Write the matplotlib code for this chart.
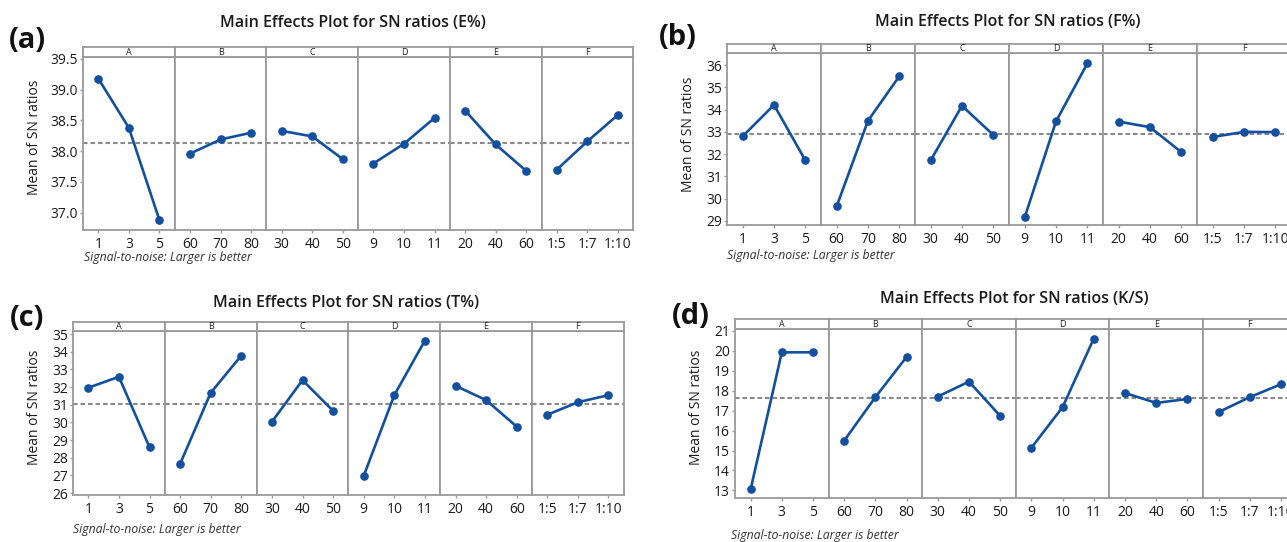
import matplotlib
matplotlib.use('Agg')
import matplotlib.pyplot as plt

W, H = 1287, 542

factors = ['A', 'B', 'C', 'D', 'E', 'F']
level_labels = [['1', '3', '5'], ['60', '70', '80'], ['30', '40', '50'],
                ['9', '10', '11'], ['20', '40', '60'], ['1:5', '1:7', '1:10']]

# (a) E%
e_means = [[39.18, 38.38, 36.88], [37.96, 38.19, 38.30], [38.33, 38.24, 37.87],
           [37.80, 38.12, 38.54], [38.66, 38.11, 37.68], [37.70, 38.16, 38.59]]
e_grand = 38.14
e_ticks = [37.0, 37.5, 38.0, 38.5, 39.0, 39.5]

# (b) F%
f_means = [[32.80, 34.21, 31.72], [29.66, 33.50, 35.50], [31.72, 34.17, 32.86],
           [29.16, 33.47, 36.07], [33.46, 33.21, 32.09], [32.77, 33.00, 32.99]]
f_grand = 32.90
f_ticks = [29, 30, 31, 32, 33, 34, 35, 36]

# (c) T%
t_means = [[31.96, 32.58, 28.59], [27.65, 31.67, 33.78], [30.03, 32.39, 30.65],
           [26.97, 31.54, 34.63], [32.07, 31.26, 29.76], [30.43, 31.14, 31.54]]
t_grand = 31.03
t_ticks = [26, 27, 28, 29, 30, 31, 32, 33, 34, 35]

# (d) K/S
k_means = [[13.05, 19.93, 19.93], [15.50, 17.68, 19.70], [17.71, 18.46, 16.74],
           [15.14, 17.18, 20.62], [17.89, 17.39, 17.59], [16.93, 17.68, 18.33]]
k_grand = 17.63
k_ticks = [13, 14, 15, 16, 17, 18, 19, 20, 21]

titles = ['Main Effects Plot for SN ratios (E%)', 'Main Effects Plot for SN ratios (F%)',
          'Main Effects Plot for SN ratios (T%)', 'Main Effects Plot for SN ratios (K/S)']
panel_tags = ['(a)', '(b)', '(c)', '(d)']

plt.rcParams['font.family'] = ['Open Sans', 'DejaVu Sans']

LINE = '#12509f'
FRAME = '#9a9a9a'
REF = '#8a8a8a'

layouts = [
    dict(left=83, w=91.7, htop=47, hbot=57, bot=230, ylim=(36.72, 39.53), fmt='%.1f',
         title=(353, 23), tag=(27, 40), ylab=(35, 137), foot=(84, 258)),
    dict(left=727, w=94.0, htop=44, hbot=53, bot=225, ylim=(28.82, 36.54), fmt='%d',
         title=(1008, 22), tag=(678, 38), ylab=(688, 134), foot=(727, 255)),
    dict(left=73, w=91.8, htop=322, hbot=331, bot=495, ylim=(25.89, 35.17), fmt='%d',
         title=(346, 303), tag=(27, 318), ylab=(35, 407), foot=(73, 530)),
    dict(left=735, w=93.6, htop=319, hbot=329, bot=498, ylim=(12.62, 21.1), fmt='%d',
         title=(1014, 299), tag=(691, 317), ylab=(696, 407), foot=(731, 535)),
]
all_means = [e_means, f_means, t_means, k_means]
all_grand = [e_grand, f_grand, t_grand, k_grand]
all_ticks = [e_ticks, f_ticks, t_ticks, k_ticks]

fig = plt.figure(figsize=(W / 100, H / 100), dpi=100)


def fx(x):
    return x / W


def fy(y):
    return 1 - y / H


for p in range(4):
    L = layouts[p]
    means = all_means[p]
    grand = all_grand[p]
    for i in range(6):
        left = L['left'] + i * L['w']
        ax = fig.add_axes([fx(left), fy(L['bot']), L['w'] / W, (L['bot'] - L['hbot']) / H])
        hdr = fig.add_axes([fx(left), fy(L['hbot']), L['w'] / W, (L['hbot'] - L['htop']) / H])
        hdr.set_xticks([])
        hdr.set_yticks([])
        for s in hdr.spines.values():
            s.set_color(FRAME)
            s.set_linewidth(1.3)
        hdr.text(0.5, 0.45, factors[i], ha='center', va='center', fontsize=6.5,
                 transform=hdr.transAxes, color='#222222')
        x = list(range(3))
        ax.axhline(grand, color=REF, lw=1.5, ls=(0, (2.2, 1.4)), zorder=1)
        ax.plot(x, means[i], '-o', color=LINE, lw=1.9, ms=5.2, zorder=3)
        ax.set_xlim(-0.5, 2.5)
        ax.set_ylim(*L['ylim'])
        ax.set_xticks(x)
        ax.set_xticklabels(level_labels[i], fontsize=10, color='#1a1a1a')
        ax.set_yticks(all_ticks[p])
        if i == 0:
            ax.set_yticklabels([L['fmt'] % v for v in all_ticks[p]], fontsize=10,
                               color='#1a1a1a')
        else:
            ax.tick_params(axis='y', left=False, labelleft=False)
        ax.tick_params(axis='x', length=2.5, width=1, color=FRAME, pad=2.5)
        ax.tick_params(axis='y', length=2.5, width=1, color=FRAME, pad=1.0)
        for s in ax.spines.values():
            s.set_color(FRAME)
            s.set_linewidth(1.3)
    fig.text(fx(L['title'][0]), fy(L['title'][1]), titles[p], ha='center', va='center',
             fontsize=11.5, fontweight='semibold', color='#1a1a1a')
    fig.text(fx(L['tag'][0]), fy(L['tag'][1]), panel_tags[p], ha='center', va='center',
             fontsize=21, fontweight='bold', color='#111111')
    fig.text(fx(L['ylab'][0]), fy(L['ylab'][1]), 'Mean of SN ratios', ha='center', va='center',
             rotation=90, fontsize=10, color='#1a1a1a')
    fig.text(fx(L['foot'][0]), fy(L['foot'][1]), 'Signal-to-noise: Larger is better',
             ha='left', va='center', fontsize=8.8, style='italic', color='#333333')

fig.savefig('out.png', dpi=100)
